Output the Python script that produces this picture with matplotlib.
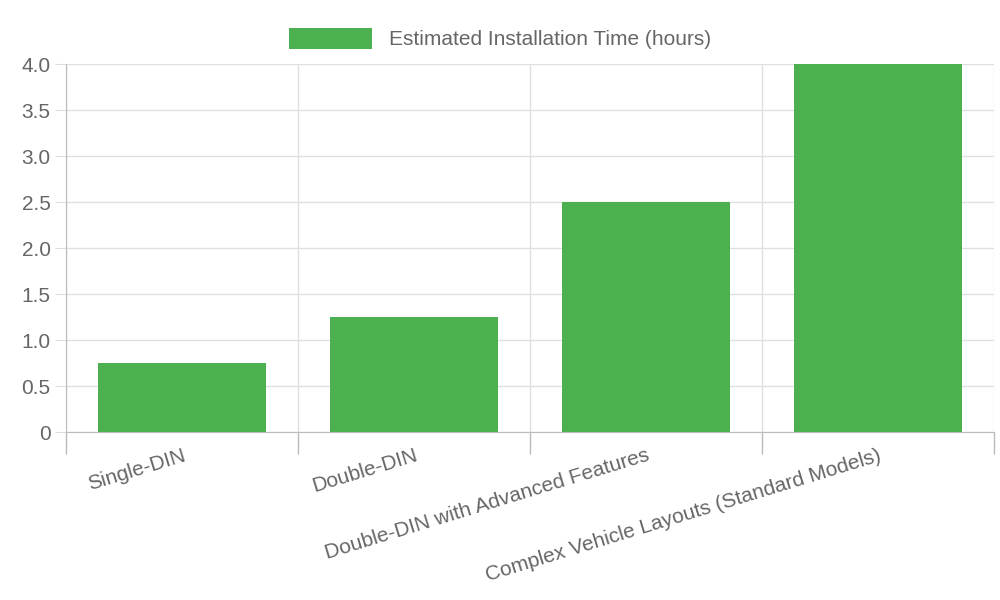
import matplotlib
matplotlib.use("Agg")
import matplotlib.pyplot as plt
from matplotlib.ticker import FixedLocator, FuncFormatter
import numpy as np

categories = ["Single-DIN", "Double-DIN", "Double-DIN with Advanced Features",
              "Complex Vehicle Layouts (Standard Models)"]
values = [0.75, 1.25, 2.5, 4.0]
series_label = "Estimated Installation Time (hours)"

plt.rcParams['font.family'] = ['Liberation Sans', 'DejaVu Sans']
fig = plt.figure(figsize=(10, 6), dpi=100)
ax = fig.add_axes([0.066, 0.28, 0.928, 0.6133])
x = np.arange(len(categories))
ax.bar(x, values, width=0.72, color="#4caf50", label=series_label, zorder=3)
ax.set_xlim(-0.5, len(categories) - 0.5)
ax.set_ylim(0, 4.0)
ax.set_yticks(np.arange(0, 4.01, 0.5))
ax.yaxis.set_major_formatter(FuncFormatter(lambda v, p: "0" if v == 0 else f"{v:.1f}"))
ax.set_xticks(x)
ax.set_xticklabels(categories, rotation=17, ha="right", rotation_mode="anchor")
ax.xaxis.set_minor_locator(FixedLocator(np.arange(-0.5, len(categories), 1.0)))
ax.tick_params(axis="x", which="major", length=0, pad=10, labelsize=15, labelcolor="#666666")
ax.tick_params(axis="x", which="minor", length=16, color="#bbbbbb", width=1)
ax.tick_params(axis="y", length=8, color="#dddddd", labelsize=15, labelcolor="#666666", pad=3)
ax.grid(True, axis="y", color="#e0e0e0", lw=1, zorder=0)
ax.grid(True, axis="x", which="minor", color="#e0e0e0", lw=1, zorder=0)
for s in ["top", "right"]:
    ax.spines[s].set_visible(False)
ax.spines["left"].set_color("#bbbbbb")
ax.spines["bottom"].set_color("#bbbbbb")
fig.legend(loc="upper center", bbox_to_anchor=(0.5, 0.985), frameon=False,
           fontsize=15, labelcolor="#666666", handlelength=4.0, handleheight=1.2)
fig.savefig("out.png", dpi=100)
